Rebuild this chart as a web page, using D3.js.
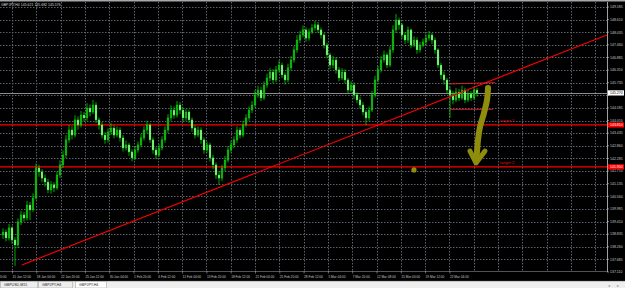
<!DOCTYPE html>
<html><head><meta charset="utf-8">
<script src="https://cdn.jsdelivr.net/npm/d3@7"></script>
<style>html,body{margin:0;padding:0;background:#000;overflow:hidden}svg{display:block}text{font-family:"Liberation Sans",Arial,sans-serif}</style>
</head><body><svg id="c" width="625" height="288"></svg>
<script>
const firstOpen = 138.80;
const closes = [
138.93,138.66,139.12,138.57,138.34,139.39,139.71,139.57,140.16,139.94,
140.48,141.85,141.67,141.39,141.21,140.85,141.08,140.94,141.53,141.99,
142.44,143.13,143.58,143.35,144.04,143.81,144.26,144.13,144.58,144.40,
144.72,144.04,143.81,143.35,143.13,143.49,143.67,143.35,143.58,143.22,
142.76,142.90,142.58,142.31,142.67,142.90,143.22,143.58,143.81,143.13,
142.67,142.44,142.76,143.13,143.58,144.13,144.49,144.26,144.72,144.49,
144.13,144.40,144.04,143.67,143.35,143.58,143.13,142.67,142.90,142.31,
141.99,141.53,141.39,141.85,142.21,142.67,142.90,143.13,143.58,143.35,
143.81,144.13,144.49,144.72,145.18,145.40,145.04,145.63,145.95,146.22,
145.86,146.32,146.54,146.09,145.86,146.41,146.77,147.23,147.68,147.91,
148.14,147.77,148.05,148.23,148.37,148.14,147.91,147.45,147.00,146.54,
146.77,146.32,145.95,146.22,145.86,145.40,145.63,145.18,144.95,144.72,
144.40,144.13,144.49,145.18,145.86,146.32,146.77,147.00,146.54,147.23,
148.14,148.59,148.37,147.91,147.68,148.14,147.45,147.68,147.23,147.45,
147.59,147.77,147.91,147.68,147.23,146.54,146.09,145.86,145.40,145.18,
144.95,145.31,145.04,145.40,144.95,145.22,145.04,145.40,145.27];
const highs = [
139.10,139.05,139.30,139.20,138.70,139.55,139.90,139.85,140.35,140.30,
140.70,142.05,142.00,141.80,141.55,141.35,141.25,141.20,141.70,142.20,
142.65,143.35,143.80,143.75,144.25,144.20,144.45,144.40,144.80,144.75,
144.95,144.85,144.15,143.95,143.50,143.65,143.90,143.80,143.75,143.70,
143.35,143.10,143.00,142.70,142.85,143.05,143.40,143.75,144.00,143.90,
143.25,142.80,142.95,143.30,143.75,144.30,144.70,144.65,144.90,144.85,
144.60,144.55,144.50,144.15,143.80,143.75,143.70,143.25,143.05,143.00,
142.45,142.10,141.70,142.00,142.40,142.85,143.10,143.30,143.75,143.70,
144.00,144.30,144.65,144.90,145.40,145.60,145.55,145.80,146.15,146.40,
146.35,146.50,146.75,146.65,146.20,146.60,146.95,147.40,147.90,148.10,
148.35,148.25,148.20,148.40,148.55,148.50,148.25,148.00,147.55,147.10,
146.95,146.90,146.45,146.40,146.35,145.95,145.80,145.75,145.30,145.10,
144.85,144.50,144.65,145.35,146.05,146.50,146.95,147.20,147.10,147.40,
148.35,148.87,148.70,148.45,148.05,148.30,148.20,147.85,147.80,147.60,
147.75,147.95,148.10,148.00,147.80,147.30,146.65,146.25,145.95,145.55,
145.35,145.50,145.45,145.60,145.50,145.40,145.35,145.55,145.50];
const lows = [
138.62,138.50,138.55,138.40,137.39,138.20,139.25,139.40,139.45,139.48,
139.85,140.40,141.45,141.20,141.00,140.70,140.68,140.75,140.85,141.40,
141.85,142.30,143.00,143.15,143.25,143.60,143.70,143.95,144.00,144.20,
144.30,143.90,143.60,143.20,142.95,143.00,143.35,143.20,143.25,143.05,
142.60,142.65,142.40,142.15,142.20,142.55,142.80,143.10,143.45,143.00,
142.50,142.25,142.35,142.65,143.00,143.45,144.00,144.10,144.15,144.30,
143.95,144.00,143.90,143.50,143.20,143.25,142.95,142.50,142.55,142.15,
141.80,141.35,141.08,141.25,141.70,142.10,142.55,142.75,143.00,143.20,
143.25,143.70,144.00,144.35,144.60,145.05,144.90,144.95,145.50,145.80,
145.70,145.75,146.20,145.95,145.65,145.75,146.30,146.65,147.10,147.55,
147.80,147.60,147.65,147.95,148.10,148.00,147.75,147.30,146.85,146.35,
146.40,146.15,145.80,145.85,145.70,145.25,145.30,145.00,144.80,144.55,
144.25,143.81,144.00,144.40,145.05,145.75,146.20,146.65,146.40,146.45,
147.10,148.00,148.15,147.75,147.50,147.55,147.30,147.35,147.05,147.10,
147.35,147.45,147.65,147.50,147.05,146.40,145.90,145.65,145.25,144.13,
144.75,144.85,144.90,144.95,144.80,144.85,144.90,144.95,145.10];

const priceTicks = [149.185,148.610,148.035,147.460,146.885,146.310,145.735,145.160,144.585,144.010,143.435,142.860,142.285,141.710,141.135,140.560,139.985,139.410,138.835,138.260,137.685,137.110];
const timeLabels = ["10 Jan 20:00","15 Jan 12:00","18 Jan 04:00","22 Jan 20:00","25 Jan 12:00","30 Jan 04:00","1 Feb 20:00","6 Feb 12:00","11 Feb 04:00","13 Feb 20:00","18 Feb 12:00","21 Feb 04:00","25 Feb 20:00","28 Feb 12:00","5 Mar 04:00","7 Mar 20:00","12 Mar 08:00","15 Mar 00:00","19 Mar 12:00","22 Mar 04:00"];
const currentPrice = 145.27;
const targetNames = ["target 1","target 2"];
const targetPrices = [143.81, 141.90];
const trendBars = [6.3, 201.3];
const trendPrices = [137.43, 147.91];
const boxTopBars = [149, 164], boxTopPrices = [145.68, 145.74];
const boxBotBars = [149, 163.3], boxBotPrices = [144.52, 144.52];
const arrowBars = [161.67,161.33,160.33,159,158.33,158,157.67];
const arrowPrices = [145.49,144.95,144.36,143.72,143.13,142.58,142.21];
const headBars = [155.67,157.67,160.67];
const headPrices = [142.62,142.08,142.62];
const dotBar = 137, dotPrice = 141.76;
const title = "GBPJPY,H4 145.621 145.682 145.576";
const tabs = ["GBPUSD,M15","GBPJPY,H4","GBPJPY,H4"];

const W = 625, H = 288, plotL = 0, plotR = 607, plotT = 2, plotB = 271;
const svg = d3.select("#c");
const y = d3.scaleLinear().domain([137.110, 149.185]).range([272, 7]);
const xBar = d3.scaleLinear().domain([0, closes.length - 1]).range([3, 477]);
const xTime = d3.scaleLinear().domain([1, 19]).range([12, 449.4]);
const px = v => Math.round(v) + 0.5;

svg.append("rect").attr("width", W).attr("height", H).attr("fill", "#000");
svg.append("rect").attr("width", W).attr("height", 1.5).attr("fill", "#a8a8a8");

svg.append("defs").append("clipPath").attr("id", "plot")
  .append("rect").attr("x", plotL).attr("y", plotT).attr("width", plotR - plotL).attr("height", plotB - plotT);
const g = svg.append("g").attr("clip-path", "url(#plot)");

// grid
const gridColor = "#59626e";
g.selectAll("line.hg").data(priceTicks).join("line").attr("class", "hg")
  .attr("x1", plotL).attr("x2", plotR).attr("y1", d => px(y(d))).attr("y2", d => px(y(d)))
  .attr("stroke", gridColor).attr("stroke-width", 1).attr("stroke-dasharray", "1.5,1.5");
g.selectAll("line.vg").data(d3.range(1, 26)).join("line").attr("class", "vg")
  .attr("x1", d => px(xTime(d))).attr("x2", d => px(xTime(d)))
  .attr("y1", plotT).attr("y2", plotB)
  .attr("stroke", gridColor).attr("stroke-width", 1).attr("stroke-dasharray", "1.5,1.5");

// current price line
g.append("line").attr("x1", plotL).attr("x2", plotR).attr("y1", px(y(currentPrice))).attr("y2", px(y(currentPrice)))
  .attr("stroke", "#8c8c8c").attr("stroke-width", 1);

// target lines
g.selectAll("line.tg").data(targetPrices).join("line").attr("class", "tg")
  .attr("x1", plotL).attr("x2", plotR).attr("y1", d => y(d)).attr("y2", d => y(d))
  .attr("stroke", "#ff0000").attr("stroke-width", 1.3);

// candles
const bars = closes.map((c, i) => ({i, o: i === 0 ? firstOpen : closes[i - 1], c, h: highs[i], l: lows[i]}));
g.selectAll("line.wick").data(bars).join("line").attr("class", "wick")
  .attr("x1", d => xBar(d.i)).attr("x2", d => xBar(d.i))
  .attr("y1", d => y(d.h)).attr("y2", d => y(d.l))
  .attr("stroke", "#00f000").attr("stroke-width", 0.7);
g.selectAll("rect.body").data(bars).join("rect").attr("class", "body")
  .attr("x", d => xBar(d.i) - 0.9).attr("width", 1.8)
  .attr("y", d => Math.min(y(d.o), y(d.c)))
  .attr("height", d => Math.max(1, Math.abs(y(d.o) - y(d.c))))
  .attr("fill", d => d.c >= d.o ? "#14a014" : "#b4ffb4")
  .attr("stroke", "#00f000").attr("stroke-width", 0.35);

// trend line
g.append("line")
  .attr("x1", xBar(trendBars[0])).attr("y1", y(trendPrices[0]))
  .attr("x2", xBar(trendBars[1])).attr("y2", y(trendPrices[1]))
  .attr("stroke", "#ff0000").attr("stroke-width", 1.1);

// box lines
g.append("line").attr("x1", xBar(boxTopBars[0])).attr("y1", y(boxTopPrices[0]))
  .attr("x2", xBar(boxTopBars[1])).attr("y2", y(boxTopPrices[1])).attr("stroke", "#ff2020").attr("stroke-width", 0.8);
g.append("line").attr("x1", xBar(boxBotBars[0])).attr("y1", y(boxBotPrices[0]))
  .attr("x2", xBar(boxBotBars[1])).attr("y2", y(boxBotPrices[1])).attr("stroke", "#ff2020").attr("stroke-width", 0.8);

// target labels
g.selectAll("text.tl").data(targetPrices).join("text").attr("class", "tl")
  .attr("x", xBar(165.7)).attr("y", d => y(d) - 2.5)
  .attr("fill", "#e01010").attr("font-size", 4.2)
  .text((d, i) => targetNames[i]);

// olive arrow + dot
const olive = "#8e8e0c";
const line = d3.line().curve(d3.curveCatmullRom).x(d => xBar(d[0])).y(d => y(d[1]));
g.append("path").attr("d", line(arrowBars.map((b, i) => [b, arrowPrices[i]])))
  .attr("fill", "none").attr("stroke", olive).attr("stroke-width", 6).attr("stroke-linecap", "round").attr("stroke-linejoin", "round");
g.append("path").attr("d", d3.line().x(d => xBar(d[0])).y(d => y(d[1]))(headBars.map((b, i) => [b, headPrices[i]])))
  .attr("fill", "none").attr("stroke", olive).attr("stroke-width", 5).attr("stroke-linecap", "round").attr("stroke-linejoin", "round");
g.append("circle").attr("cx", xBar(dotBar)).attr("cy", y(dotPrice)).attr("r", 2.6).attr("fill", olive);

// plot border
svg.append("line").attr("x1", plotR + 0.5).attr("x2", plotR + 0.5).attr("y1", plotT).attr("y2", plotB + 1)
  .attr("stroke", "#c8c8c8").attr("stroke-width", 0.8);
svg.append("line").attr("x1", 0).attr("x2", plotR + 0.5).attr("y1", plotB + 0.5).attr("y2", plotB + 0.5)
  .attr("stroke", "#8a8a8a").attr("stroke-width", 0.6);

// price axis labels
const fmt = d3.format(".3f");
const hidden = [currentPrice, ...targetPrices];
const shownTicks = priceTicks.filter(t => hidden.every(h => Math.abs(y(t) - y(h)) > 3.8));
svg.selectAll("line.pt").data(priceTicks).join("line").attr("class", "pt")
  .attr("x1", plotR).attr("x2", plotR + 2).attr("y1", d => y(d)).attr("y2", d => y(d))
  .attr("stroke", "#c8c8c8").attr("stroke-width", 0.6);
svg.selectAll("text.pl").data(shownTicks).join("text").attr("class", "pl")
  .attr("x", 610).attr("y", d => y(d) + 1.3)
  .attr("fill", "#c8c8c8").attr("font-size", 3.5)
  .text(d => fmt(d));
// current price box
svg.append("rect").attr("x", 608).attr("y", y(currentPrice) - 2.6).attr("width", 16).attr("height", 5.2).attr("fill", "#ffffff");
svg.append("text").attr("x", 610).attr("y", y(currentPrice) + 1.3).attr("fill", "#000").attr("font-size", 3.5).text(fmt(currentPrice));
svg.selectAll("rect.tb").data(targetPrices).join("rect").attr("class", "tb")
  .attr("x", 608).attr("y", d => y(d) - 2.6).attr("width", 16).attr("height", 5.2).attr("fill", "#ff0000");
svg.selectAll("text.tbt").data(targetPrices).join("text").attr("class", "tbt")
  .attr("x", 610).attr("y", d => y(d) + 1.3).attr("fill", "#ffffff").attr("font-size", 3.5).text(d => fmt(d));

// time axis labels
svg.selectAll("text.tx").data(timeLabels).join("text").attr("class", "tx")
  .attr("x", (d, i) => xTime(i) + 0.5).attr("y", 277.5)
  .attr("fill", "#c8c8c8").attr("font-size", 3.2)
  .text(d => d);
svg.selectAll("line.tt").data(timeLabels).join("line").attr("class", "tt")
  .attr("x1", (d, i) => xTime(i) + 0.5).attr("x2", (d, i) => xTime(i) + 0.5).attr("y1", plotB).attr("y2", plotB + 2.5)
  .attr("stroke", "#c8c8c8").attr("stroke-width", 0.5);

// title
svg.append("text").attr("x", 1).attr("y", 5.5).attr("fill", "#d8d8d8").attr("font-size", 3.5).text(title);

// tab bar
svg.append("rect").attr("x", 0).attr("y", 281).attr("width", W).attr("height", 7).attr("fill", "#eeeeee");
svg.append("line").attr("x1", 0).attr("x2", W).attr("y1", 281.3).attr("y2", 281.3).attr("stroke", "#a0a0a0").attr("stroke-width", 0.6);
const tabX = [0, 38, 75], tabW = [37, 34, 31];
svg.selectAll("rect.tab").data(tabs).join("rect").attr("class", "tab")
  .attr("x", (d, i) => tabX[i] + 0.5).attr("y", 281.5).attr("width", (d, i) => tabW[i]).attr("height", 6.5)
  .attr("fill", (d, i) => i === 2 ? "#ffffff" : "#eeeeee").attr("stroke", "#9a9a9a").attr("stroke-width", 0.5);
svg.selectAll("text.tabt").data(tabs).join("text").attr("class", "tabt")
  .attr("x", (d, i) => tabX[i] + 4).attr("y", 286.3)
  .attr("fill", "#202020").attr("font-size", 3.6).text(d => d);
// scroll arrows
svg.append("text").attr("x", 608).attr("y", 286.5).attr("fill", "#909090").attr("font-size", 4).text("◂");
svg.append("text").attr("x", 617).attr("y", 286.5).attr("fill", "#909090").attr("font-size", 4).text("▸");
</script></body></html>
